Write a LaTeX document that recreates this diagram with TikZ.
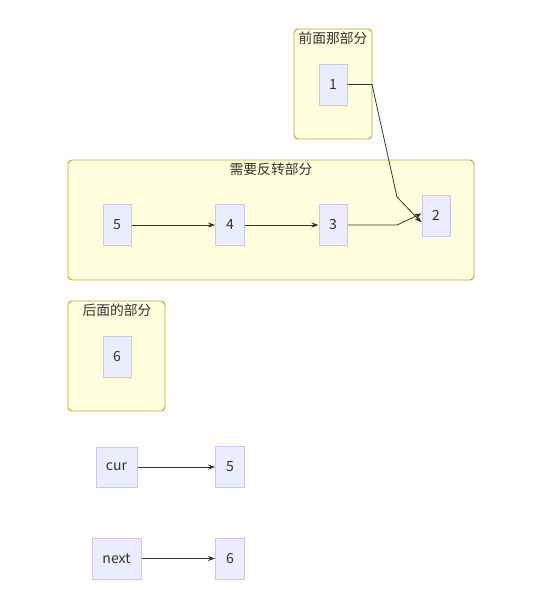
\documentclass[tikz,border=0pt]{standalone}
\usepackage{fontspec}
\setmainfont{Noto Sans CJK SC}
\usetikzlibrary{arrows.meta}
\definecolor{clfill}{HTML}{FFFFDE}
\definecolor{cldraw}{HTML}{AAAA33}
\definecolor{ndfill}{HTML}{ECECFF}
\definecolor{nddraw}{HTML}{C8C8F8}
\definecolor{txt}{HTML}{333333}
\tikzset{
  cluster/.style={draw=cldraw, fill=clfill, rounded corners=4pt, line width=0.9pt},
  ctitle/.style={text=txt, font=\fontsize{13.8}{16}\selectfont, inner sep=0pt},
  nd/.style={draw=nddraw, fill=ndfill, line width=1pt, inner sep=0pt, text=txt,
    font=\fontsize{14}{16}\selectfont, minimum height=41pt},
  edge/.style={draw=txt, line width=0.8pt, -{Stealth[length=7pt,width=5pt]}},
}
\begin{document}
\begin{tikzpicture}[x=1pt,y=-1pt]
\useasboundingbox (0,0) rectangle (546,605);
% clusters
\draw[cluster] (294,29) rectangle (372,139);
\node[ctitle] (t1) at (333,38) {前面那部分};
\draw[cluster] (68,160) rectangle (474,280);
\node[ctitle] (t2) at (271,169) {需要反转部分};
\draw[cluster] (68,301) rectangle (165,411);
\node[ctitle] (t3) at (117,310) {后面的部分};
% nodes
\node[nd, minimum width=28pt] (n1) at (333,84.5) {1};
\node[nd, minimum width=28pt] (n5) at (117,225) {5};
\node[nd, minimum width=29pt] (n4) at (230,225) {4};
\node[nd, minimum width=28pt] (n3) at (333,225) {3};
\node[nd, minimum width=28pt] (n2) at (436,215.5) {2};
\node[nd, minimum width=28pt] (n6) at (117,356.5) {6};
\node[nd, minimum width=41pt, minimum height=40pt] (cur) at (116.5,467) {cur};
\node[nd, minimum width=29pt] (c5) at (230,467) {5};
\node[nd, minimum width=49pt] (nxt) at (116.5,558.5) {next};
\node[nd, minimum width=29pt] (c6) at (230,558.5) {6};
% edges
\coordinate (b1) at (372,84.5);
\coordinate (b2) at (397,197);
\coordinate (b3) at (397,225);
\draw[edge] (n1.east) -- (b1) -- (b2) -- ([yshift=-7pt]n2.west);
\draw[edge] (n5) -- (n4);
\draw[edge] (n4) -- (n3);
\draw[edge] (n3.east) -- (b3) -- ([yshift=2pt]n2.west);
\draw[edge] (cur) -- (c5);
\draw[edge] (nxt) -- (c6);
\end{tikzpicture}
\end{document}
